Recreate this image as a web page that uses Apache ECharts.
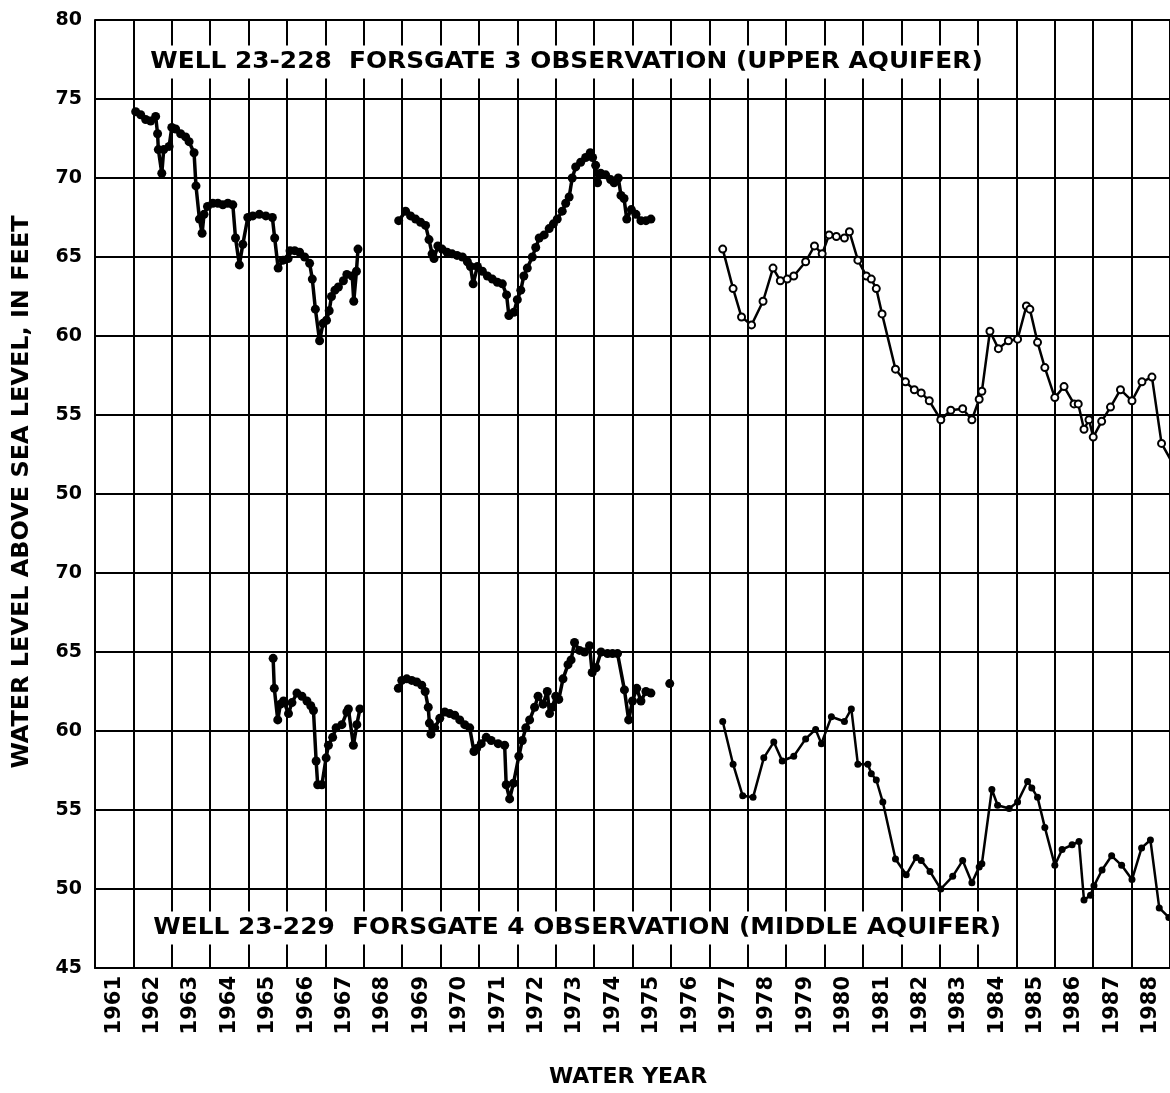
<!DOCTYPE html>
<html>
<head>
<meta charset="UTF-8">
<title>Forsgate observation wells</title>
<script src="https://cdn.jsdelivr.net/npm/echarts@6/dist/echarts.min.js"></script>
<style>
  html, body { margin: 0; padding: 0; background: #fff; }
  #main { width: 1170px; height: 1093px; }
</style>
</head>
<body>
<div id="main"></div>
<script>
// x = position in water years (1961.0 = start of water year 1961)
var years = [];
for (var y = 1961; y <= 1988; y++) years.push(String(y));

// Well 23-228 (upper aquifer)
var upper1 = [[1962.06,74.2],[1962.19,74.0],[1962.32,73.7],[1962.45,73.6],[1962.58,73.9],[1962.63,72.8],[1962.65,71.8],
  [1962.74,70.3],[1962.79,71.8],[1962.93,72.0],[1963.0,73.2],[1963.1,73.1],[1963.23,72.8],[1963.36,72.6],[1963.45,72.3],
  [1963.58,71.6],[1963.63,69.5],[1963.72,67.4],[1963.79,66.5],[1963.84,67.7],[1963.93,68.2],[1964.07,68.4],[1964.2,68.4],
  [1964.33,68.3],[1964.46,68.4],[1964.59,68.3],[1964.66,66.2],[1964.76,64.5],[1964.85,65.8],[1964.98,67.5],[1965.11,67.6],
  [1965.28,67.7],[1965.45,67.6],[1965.62,67.5],[1965.68,66.2],[1965.77,64.3],[1965.9,64.8],[1966.03,64.9],[1966.08,65.4],
  [1966.2,65.4],[1966.33,65.3],[1966.46,65.0],[1966.59,64.6],[1966.66,63.6],[1966.74,61.7],[1966.85,59.7],[1966.94,60.8],
  [1967.03,61.0],[1967.1,61.6],[1967.16,62.5],[1967.25,62.9],[1967.34,63.1],[1967.47,63.5],[1967.56,63.9],[1967.7,63.8],
  [1967.74,62.2],[1967.81,64.1],[1967.85,65.5]];
var upper2 = [[1968.91,67.3],[1969.09,67.9],[1969.22,67.6],[1969.35,67.4],[1969.48,67.2],[1969.61,67.0],[1969.7,66.1],
  [1969.78,65.2],[1969.83,64.9],[1969.93,65.7],[1970.04,65.5],[1970.17,65.3],[1970.3,65.2],[1970.43,65.1],[1970.57,65.0],
  [1970.7,64.7],[1970.78,64.4],[1970.85,63.3],[1970.96,64.4],[1971.09,64.1],[1971.22,63.8],[1971.35,63.6],[1971.48,63.4],
  [1971.61,63.3],[1971.72,62.6],[1971.78,61.3],[1971.91,61.5],[1972.0,62.3],[1972.09,62.9],[1972.17,63.8],[1972.26,64.3],
  [1972.39,65.0],[1972.48,65.6],[1972.57,66.2],[1972.7,66.4],[1972.83,66.8],[1972.94,67.1],[1973.04,67.4],[1973.17,67.9],
  [1973.26,68.4],[1973.35,68.8],[1973.43,70.0],[1973.52,70.7],[1973.65,71.0],[1973.78,71.3],[1973.9,71.6],[1973.96,71.3],
  [1974.04,70.8],[1974.09,69.7],[1974.17,70.3],[1974.3,70.2],[1974.43,69.9],[1974.52,69.7],[1974.63,70.0],[1974.7,68.9],
  [1974.78,68.7],[1974.85,67.4],[1974.97,68.0],[1975.09,67.7],[1975.22,67.3],[1975.35,67.3],[1975.48,67.4]];
var upper3 = [[1977.35,65.5],[1977.62,63.0],[1977.84,61.2],[1978.1,60.7],[1978.4,62.2],[1978.66,64.3],[1978.85,63.5],
  [1979.03,63.6],[1979.2,63.8],[1979.51,64.7],[1979.74,65.7],[1979.94,65.2],[1980.12,66.4],[1980.31,66.3],[1980.52,66.2],
  [1980.65,66.6],[1980.87,64.8],[1981.09,63.8],[1981.22,63.6],[1981.35,63.0],[1981.5,61.4],[1981.85,57.9],[1982.11,57.1],
  [1982.34,56.6],[1982.52,56.4],[1982.73,55.9],[1983.03,54.7],[1983.29,55.3],[1983.6,55.4],[1983.84,54.7],[1984.03,56.0],
  [1984.1,56.5],[1984.31,60.3],[1984.53,59.2],[1984.79,59.7],[1985.03,59.8],[1985.26,61.9],[1985.35,61.7],[1985.55,59.6],
  [1985.74,58.0],[1986.0,56.1],[1986.24,56.8],[1986.5,55.7],[1986.61,55.7],[1986.76,54.1],[1986.89,54.7],[1987.0,53.6],
  [1987.22,54.6],[1987.45,55.5],[1987.71,56.6],[1988.01,55.9],[1988.27,57.1],[1988.53,57.4],[1988.78,53.2],[1989.1,51.8]];

// Well 23-229 (middle aquifer)
var lower1 = [[1965.64,64.6],[1965.67,62.7],[1965.76,60.7],[1965.83,61.7],[1965.91,61.9],[1966.04,61.1],[1966.13,61.8],
  [1966.26,62.4],[1966.39,62.2],[1966.52,61.9],[1966.62,61.6],[1966.69,61.3],[1966.76,58.1],[1966.8,56.6],[1966.91,56.6],
  [1967.02,58.3],[1967.08,59.1],[1967.19,59.6],[1967.28,60.2],[1967.43,60.4],[1967.56,61.2],[1967.6,61.4],[1967.73,59.1],
  [1967.82,60.4],[1967.9,61.4]];
var lower2 = [[1968.9,62.7],[1968.99,63.2],[1969.12,63.3],[1969.25,63.2],[1969.38,63.1],[1969.51,62.9],[1969.6,62.5],
  [1969.68,61.5],[1969.71,60.5],[1969.75,59.8],[1969.85,60.2],[1969.98,60.8],[1970.11,61.2],[1970.24,61.1],[1970.37,61.0],
  [1970.5,60.7],[1970.63,60.4],[1970.76,60.2],[1970.87,58.7],[1970.94,58.9],[1971.06,59.2],[1971.19,59.6],[1971.32,59.4],
  [1971.5,59.2],[1971.67,59.1],[1971.71,56.6],[1971.8,55.7],[1971.9,56.7],[1972.04,58.4],[1972.13,59.4],[1972.22,60.2],
  [1972.32,60.7],[1972.45,61.5],[1972.54,62.2],[1972.67,61.7],[1972.78,62.5],[1972.84,61.1],[1972.91,61.5],[1973.0,62.2],
  [1973.08,62.0],[1973.19,63.3],[1973.32,64.2],[1973.4,64.5],[1973.49,65.6],[1973.62,65.1],[1973.75,65.0],[1973.88,65.4],
  [1973.95,63.7],[1974.05,64.0],[1974.18,65.0],[1974.35,64.9],[1974.48,64.9],[1974.61,64.9],[1974.79,62.6],[1974.9,60.7],
  [1975.0,61.9],[1975.11,62.7],[1975.22,61.9],[1975.35,62.5],[1975.48,62.4]];
var lower1976 = [[1975.97,63.0]];
var lower3 = [[1977.35,60.6],[1977.62,57.9],[1977.87,55.9],[1978.14,55.8],[1978.42,58.3],[1978.68,59.3],[1978.9,58.1],
  [1979.2,58.4],[1979.51,59.5],[1979.77,60.1],[1979.92,59.2],[1980.18,60.9],[1980.52,60.6],[1980.7,61.4],[1980.87,57.9],
  [1981.13,57.9],[1981.22,57.3],[1981.35,56.9],[1981.52,55.5],[1981.85,51.9],[1982.13,50.9],[1982.39,52.0],[1982.52,51.8],
  [1982.75,51.1],[1983.03,50.0],[1983.34,50.8],[1983.6,51.8],[1983.84,50.4],[1984.03,51.4],[1984.1,51.6],[1984.36,56.3],
  [1984.51,55.3],[1984.81,55.1],[1985.03,55.5],[1985.29,56.8],[1985.4,56.4],[1985.55,55.8],[1985.74,53.9],[1986.0,51.5],
  [1986.19,52.5],[1986.45,52.8],[1986.63,53.0],[1986.76,49.3],[1986.93,49.6],[1987.02,50.2],[1987.23,51.2],[1987.48,52.1],
  [1987.74,51.5],[1988.01,50.6],[1988.26,52.6],[1988.49,53.1],[1988.72,48.8],[1988.97,48.2],[1989.2,47.5]];

var FONT = 'DejaVu Sans';
var gridLine = { show: true, lineStyle: { color: '#000', width: 2 } };

function dense(data, xi, yi) {
  return {
    type: 'line', xAxisIndex: xi, yAxisIndex: yi, data: data,
    symbol: 'circle', symbolSize: 9, showSymbol: true,
    lineStyle: { color: '#000', width: 3.5 },
    itemStyle: { color: '#000' }, animation: false
  };
}

function valueX(gi) {
  return {
    type: 'value', gridIndex: gi, min: 1961, max: 1989, interval: 1,
    axisLabel: { show: false }, axisTick: { show: false },
    axisLine: { show: true, lineStyle: { color: '#000', width: 2 } },
    splitLine: gridLine
  };
}

function valueY(gi, min, max, hideTop) {
  return {
    type: 'value', gridIndex: gi, min: min, max: max, interval: 5,
    axisTick: { show: false },
    axisLine: { show: true, lineStyle: { color: '#000', width: 2 } },
    axisLabel: {
      color: '#000', fontFamily: FONT, fontWeight: 'bold', fontSize: 19, margin: 13,
      formatter: function (v) { return (hideTop && v === max) ? '' : String(v); }
    },
    splitLine: gridLine
  };
}

// text label drawn with the graphic component (white box behind the panel titles)
function label(text, x, y, size, opts) {
  var o = opts || {};
  return {
    type: 'text', x: x, y: y, z: 100,
    rotation: o.rotation || 0, scaleX: o.scaleX || 1,
    style: {
      text: text, font: 'bold ' + size + 'px "DejaVu Sans"', fill: '#000',
      align: o.align || 'center', verticalAlign: 'middle',
      backgroundColor: o.bg || null, padding: o.bg ? [5, 4] : 0
    }
  };
}

var lateUpper = dense(upper3, 0, 0);
lateUpper.symbol = 'emptyCircle';
lateUpper.symbolSize = 7;
lateUpper.lineStyle.width = 2.5;
lateUpper.itemStyle = { color: '#000', borderWidth: 2 };

var lateLower = dense(lower3, 1, 1);
lateLower.symbolSize = 7;
lateLower.lineStyle.width = 2.5;

var chart = echarts.init(document.getElementById('main'));
chart.setOption({
  backgroundColor: '#fff',
  animation: false,
  grid: [
    { left: 95, top: 20, width: 1078, height: 474 },
    { left: 95, top: 494, width: 1078, height: 474 }
  ],
  graphic: [
    label('WELL 23-228  FORSGATE 3 OBSERVATION (UPPER AQUIFER)', 146, 62, 23,
          { align: 'left', scaleX: 1.08, bg: '#fff' }),
    label('WELL 23-229  FORSGATE 4 OBSERVATION (MIDDLE AQUIFER)', 149, 928, 23,
          { align: 'left', scaleX: 1.08, bg: '#fff' }),
    label('WATER LEVEL ABOVE SEA LEVEL, IN FEET', 22, 492, 23, { rotation: Math.PI / 2, scaleX: 1.04 }),
    label('WATER YEAR', 628, 1077, 22)
  ],
  xAxis: [
    valueX(0),
    valueX(1),
    {
      type: 'category', gridIndex: 1, data: years, boundaryGap: true, position: 'bottom',
      axisLine: { show: false }, axisTick: { show: false }, splitLine: { show: false },
      axisLabel: { rotate: 90, margin: 8, interval: 0, color: '#000',
                   fontFamily: FONT, fontWeight: 'bold', fontSize: 21 }
    }
  ],
  yAxis: [
    valueY(0, 50, 80, false),
    valueY(1, 45, 75, true)
  ],
  series: [
    dense(upper1, 0, 0),
    dense(upper2, 0, 0),
    lateUpper,
    dense(lower1, 1, 1),
    dense(lower2, 1, 1),
    dense(lower1976, 1, 1),
    lateLower
  ]
});
</script>
</body>
</html>
